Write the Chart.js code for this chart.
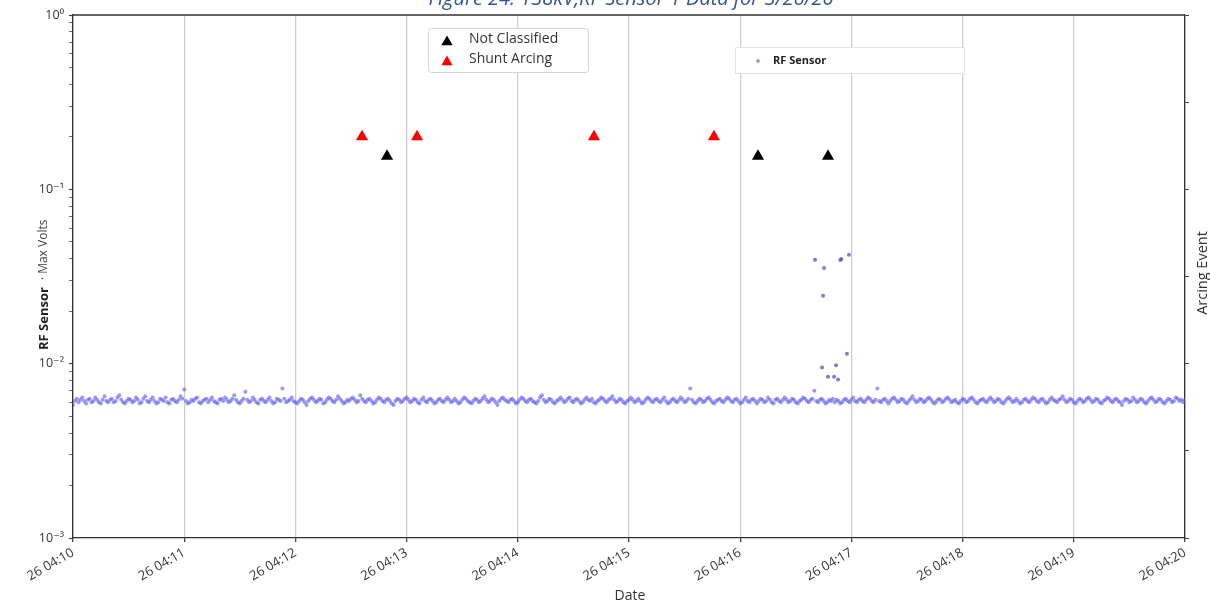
<!DOCTYPE html>
<html><head><meta charset="utf-8">
<script src="https://cdn.jsdelivr.net/npm/chart.js@4.4.1/dist/chart.umd.min.js"></script>
<style>html,body{margin:0;padding:0;background:#fff;} #wrap{width:1210px;height:604px;position:relative;}</style>
</head><body><div id="wrap"><canvas id="c" width="1210" height="604"></canvas></div>
<script>
const chartTitle = 'Figure 24. 138kV,RF Sensor 1 Data for 3/26/20';
const xTickLabels = ['26 04:10','26 04:11','26 04:12','26 04:13','26 04:14','26 04:15','26 04:16','26 04:17','26 04:18','26 04:19','26 04:20'];
const yMajorTicks = [0.001, 0.01, 0.1, 1];
const yMajorLabels = ['10\u207B\u00B3', '10\u207B\u00B2', '10\u207B\u00B9', '10\u2070'];
const yLabelMain = 'RF Sensor';
const yLabelSub = '\u00B7 Max Volts';
const y2Label = 'Arcing Event';
const xLabel = 'Date';
const legendEvents = ['Not Classified', 'Shunt Arcing'];
const legendSensor = 'RF Sensor';

// RF sensor max volts, one reading per second from 04:10:00
const rfValues = [
.0058,.0061,.0063,.0060,.0062,.0064,.0061,.0059,.0062,.0063,.0060,.0061,.0064,.0062,.0060,.0059,.0062,.0065,.0061,.0060,
.0062,.0063,.0060,.0061,.0064,.0066,.0062,.0060,.0059,.0061,.0063,.0062,.0060,.0061,.0064,.0062,.0059,.0060,.0063,.0065,
.0061,.0060,.0062,.0064,.0061,.0059,.0060,.0063,.0062,.0061,.0064,.0060,.0059,.0062,.0063,.0061,.0060,.0062,.0065,.0063,
.0071,.0061,.0059,.0060,.0062,.0061,.0063,.0064,.0060,.0059,.0061,.0062,.0063,.0060,.0062,.0064,.0061,.0060,.0059,.0062,
.0063,.0061,.0064,.0062,.0060,.0061,.0063,.0066,.0062,.0060,.0059,.0061,.0063,.0069,.0062,.0060,.0061,.0064,.0062,.0060,
.0059,.0062,.0063,.0061,.0060,.0062,.0064,.0061,.0059,.0060,.0063,.0062,.0061,.0072,.0063,.0060,.0061,.0062,.0064,.0061,
.0060,.0059,.0061,.0063,.0062,.0060,.0058,.0061,.0063,.0064,.0062,.0060,.0061,.0063,.0062,.0059,.0060,.0062,.0064,.0063,
.0061,.0060,.0062,.0065,.0063,.0061,.0059,.0060,.0062,.0061,.0063,.0064,.0062,.0060,.0061,.0066,.0063,.0061,.0060,.0062,
.0063,.0061,.0059,.0060,.0062,.0064,.0063,.0061,.0060,.0062,.0063,.0061,.0059,.0058,.0061,.0063,.0062,.0060,.0061,.0063,
.0064,.0062,.0060,.0061,.0063,.0062,.0060,.0059,.0062,.0064,.0061,.0060,.0062,.0063,.0061,.0059,.0060,.0062,.0063,.0061,
.0060,.0062,.0064,.0062,.0060,.0061,.0063,.0061,.0059,.0060,.0062,.0064,.0063,.0061,.0060,.0059,.0061,.0063,.0062,.0060,
.0061,.0063,.0065,.0062,.0060,.0061,.0063,.0062,.0060,.0058,.0061,.0063,.0064,.0062,.0061,.0060,.0062,.0063,.0061,.0059,
.0060,.0062,.0064,.0063,.0061,.0060,.0062,.0063,.0061,.0060,.0059,.0061,.0064,.0066,.0062,.0060,.0061,.0063,.0062,.0060,
.0059,.0061,.0062,.0064,.0062,.0060,.0061,.0063,.0064,.0061,.0060,.0062,.0063,.0061,.0059,.0060,.0062,.0064,.0062,.0061,
.0063,.0060,.0059,.0061,.0062,.0064,.0063,.0061,.0060,.0062,.0063,.0065,.0062,.0060,.0061,.0063,.0062,.0060,.0059,.0061,
.0062,.0064,.0062,.0060,.0061,.0063,.0061,.0059,.0060,.0062,.0064,.0063,.0061,.0060,.0062,.0063,.0061,.0060,.0062,.0064,
.0061,.0059,.0060,.0062,.0063,.0061,.0060,.0062,.0064,.0062,.0060,.0061,.0063,.0072,.0062,.0060,.0059,.0061,.0063,.0062,
.0060,.0061,.0063,.0064,.0062,.0060,.0059,.0061,.0062,.0063,.0061,.0060,.0062,.0064,.0063,.0061,.0060,.0062,.0063,.0061,
.0059,.0060,.0062,.0064,.0061,.0060,.0062,.0063,.0061,.0059,.0061,.0063,.0062,.0060,.0061,.0064,.0062,.0060,.0059,.0062,
.0063,.0061,.0060,.0062,.0064,.0062,.0060,.0061,.0063,.0062,.0060,.0059,.0061,.0062,.0064,.0063,.0061,.0060,.0062,.0063,
.0070,.0061,.0060,.0062,.0063,.0061,.0059,.0060,.0062,.0061,.0063,.0060,.0062,.0061,.0059,.0060,.0062,.0063,.0061,.0060,
.0062,.0064,.0061,.0060,.0062,.0063,.0061,.0060,.0062,.0064,.0063,.0061,.0060,.0062,.0072,.0061,.0060,.0062,.0063,.0061,
.0059,.0061,.0063,.0064,.0062,.0060,.0061,.0063,.0062,.0060,.0059,.0061,.0063,.0065,.0062,.0060,.0061,.0063,.0062,.0060,
.0061,.0063,.0064,.0062,.0060,.0059,.0061,.0063,.0062,.0060,.0061,.0063,.0064,.0062,.0060,.0061,.0062,.0060,.0059,.0061,
.0063,.0062,.0060,.0061,.0063,.0064,.0062,.0060,.0059,.0061,.0062,.0063,.0061,.0060,.0062,.0064,.0062,.0060,.0061,.0063,
.0062,.0060,.0059,.0061,.0063,.0064,.0062,.0060,.0061,.0063,.0061,.0059,.0060,.0062,.0063,.0061,.0060,.0062,.0064,.0063,
.0061,.0060,.0062,.0063,.0061,.0059,.0060,.0062,.0064,.0062,.0061,.0060,.0062,.0063,.0065,.0062,.0060,.0061,.0063,.0062,
.0060,.0059,.0061,.0063,.0062,.0060,.0061,.0063,.0064,.0062,.0060,.0061,.0063,.0062,.0060,.0059,.0061,.0062,.0064,.0063,
.0061,.0060,.0062,.0063,.0061,.0060,.0058,.0061,.0063,.0062,.0060,.0061,.0064,.0062,.0060,.0061,.0063,.0062,.0060,.0059,
.0061,.0063,.0064,.0062,.0060,.0061,.0063,.0062,.0060,.0059,.0061,.0063,.0062,.0060,.0061,.0064,.0063,.0061,.0062,.0060,
.0062];

// burst of elevated readings (minutes after 04:10)
const rfBurstMinutes = [6.673, 6.736, 6.745, 6.754, 6.790, 6.844, 6.862, 6.880, 6.900, 6.910, 6.960, 6.978];
const rfBurstValues  = [0.0394, 0.0095, 0.0245, 0.0354, 0.0084, 0.0084, 0.0098, 0.0081, 0.0393, 0.0398, 0.0114, 0.0421];

// arcing events (minutes after 04:10)
const notClassifiedMinutes = [2.824, 6.160, 6.790];
const notClassifiedValues  = [0.155, 0.155, 0.155];
const shuntArcingMinutes = [2.599, 3.094, 4.685, 5.764];
const shuntArcingValues  = [0.2, 0.2, 0.2, 0.2];

const rfColor = 'rgba(85,85,240,0.6)';
const FONT = '"Open Sans", "DejaVu Sans", sans-serif';

const rfData = rfValues.map((v, i) => ({x: i / 60, y: v}));
const burstData = rfBurstMinutes.map((m, i) => ({x: m, y: rfBurstValues[i]}));
const ncData = notClassifiedMinutes.map((m, i) => ({x: m, y: notClassifiedValues[i]}));
const saData = shuntArcingMinutes.map((m, i) => ({x: m, y: shuntArcingValues[i]}));

function triangle(ctx, x, y, r, color) {
  ctx.beginPath();
  for (let k = 0; k < 3; k++) {
    const a = k * 2 * Math.PI / 3;
    const px = x + Math.sin(a) * r, py = y - Math.cos(a) * r;
    if (k === 0) ctx.moveTo(px, py); else ctx.lineTo(px, py);
  }
  ctx.closePath();
  ctx.fillStyle = color; ctx.fill();
}

const decor = {
  id: 'decor',
  afterDraw(chart) {
    const {ctx, chartArea: a} = chart;
    ctx.save();
    ctx.strokeStyle = '#333'; ctx.lineWidth = 1.3;
    ctx.beginPath(); ctx.moveTo(a.left, a.top); ctx.lineTo(a.right, a.top); ctx.stroke();

    ctx.font = 'italic 20px ' + FONT; ctx.fillStyle = '#2E5597';
    ctx.textAlign = 'center'; ctx.textBaseline = 'alphabetic';
    ctx.fillText(chartTitle, 631, 5);

    ctx.save();
    ctx.translate(44, 350); ctx.rotate(-Math.PI / 2);
    ctx.textAlign = 'left'; ctx.textBaseline = 'middle'; ctx.fillStyle = '#222';
    ctx.font = 'bold 13px ' + FONT;
    ctx.fillText(yLabelMain, 0, 0);
    const w = ctx.measureText(yLabelMain).width;
    ctx.font = '12px ' + FONT; ctx.fillStyle = '#444';
    ctx.fillText(yLabelSub, w + 7, 0);
    ctx.restore();

    ctx.save();
    ctx.translate(1203, 273); ctx.rotate(-Math.PI / 2);
    ctx.textAlign = 'center'; ctx.textBaseline = 'middle'; ctx.fillStyle = '#333';
    ctx.font = '14.5px ' + FONT;
    ctx.fillText(y2Label, 0, 0);
    ctx.restore();

    ctx.textAlign = 'center'; ctx.textBaseline = 'middle'; ctx.fillStyle = '#333';
    ctx.font = '14px ' + FONT;
    ctx.fillText(xLabel, 630, 596);

    ctx.fillStyle = '#fff'; ctx.strokeStyle = '#d4d4d4'; ctx.lineWidth = 1;
    ctx.beginPath(); ctx.roundRect(428.5, 28.5, 160, 44, 3); ctx.fill(); ctx.stroke();
    triangle(ctx, 447, 42, 6.5, '#000');
    triangle(ctx, 447, 62, 6.5, '#ff0000');
    ctx.fillStyle = '#333'; ctx.font = '14px ' + FONT; ctx.textAlign = 'left'; ctx.textBaseline = 'middle';
    ctx.fillText(legendEvents[0], 469, 39);
    ctx.fillText(legendEvents[1], 469, 59);

    ctx.fillStyle = '#fff'; ctx.strokeStyle = '#e4e4e4';
    ctx.beginPath(); ctx.rect(735.5, 47.5, 229, 26); ctx.fill(); ctx.stroke();
    ctx.fillStyle = rfColor;
    ctx.beginPath(); ctx.arc(758, 61, 1.9, 0, 2 * Math.PI); ctx.fill();
    ctx.fillStyle = '#222'; ctx.font = 'bold 11px ' + FONT;
    ctx.fillText(legendSensor, 773, 61);
    ctx.restore();
  }
};

new Chart(document.getElementById('c'), {
  type: 'scatter',
  data: {
    datasets: [
      {label: legendEvents[1], data: saData, yAxisID: 'y', order: 0, pointStyle: 'triangle', pointRadius: 7, pointHoverRadius: 7,
       backgroundColor: '#ff0000', borderColor: '#ff0000', borderWidth: 0},
      {label: legendEvents[0], data: ncData, yAxisID: 'y', order: 1, pointStyle: 'triangle', pointRadius: 7, pointHoverRadius: 7,
       backgroundColor: '#000', borderColor: '#000', borderWidth: 0},
      {label: legendSensor, data: burstData, yAxisID: 'y', order: 2, pointRadius: 2, borderWidth: 0,
       backgroundColor: 'rgba(80,80,200,0.75)'},
      {label: legendSensor, data: rfData, yAxisID: 'y', order: 3, pointRadius: 2, borderWidth: 0,
       backgroundColor: rfColor}
    ]
  },
  options: {
    responsive: false,
    animation: false,
    devicePixelRatio: 1,
    layout: {padding: {top: 15, left: 0, right: 0, bottom: 0}},
    plugins: {legend: {display: false}, tooltip: {enabled: false}, title: {display: false}},
    scales: {
      x: {
        type: 'linear', min: 0, max: 10,
        afterFit: s => { s.height = 66; },
        ticks: {stepSize: 1, autoSkip: false, minRotation: 30, maxRotation: 30, padding: 3,
                color: '#333', font: {family: FONT, size: 13},
                callback: v => xTickLabels[Math.round(v)] || ''},
        grid: {color: '#cfcfcf', lineWidth: 1.3, drawTicks: true, tickLength: 4, tickColor: '#444'},
        border: {display: true, color: '#333', width: 1.3}
      },
      y: {
        type: 'logarithmic', position: 'left', min: 0.001, max: 1,
        afterFit: s => { s.width = 73; },
        afterBuildTicks: s => {
          const t = [];
          yMajorTicks.forEach((m, k) => {
            t.push({value: m, major: true});
            if (k < yMajorTicks.length - 1) for (let q = 2; q <= 9; q++) t.push({value: m * q, major: false});
          });
          s.ticks = t;
        },
        ticks: {autoSkip: false, padding: 5, color: '#333', font: {family: FONT, size: 12.5},
                callback: v => { const k = yMajorTicks.indexOf(v); return k >= 0 ? yMajorLabels[k] : ''; }},
        grid: {drawOnChartArea: false, drawTicks: true, tickLength: 4, tickColor: '#444',
               tickWidth: c => (c.tick && c.tick.major) ? 1.2 : 0.8},
        border: {display: true, color: '#333', width: 1.3}
      },
      y2: {
        type: 'linear', position: 'right', min: 0, max: 6,
        afterFit: s => { s.width = 25; },
        ticks: {stepSize: 1, autoSkip: false, callback: () => ''},
        grid: {drawOnChartArea: false, drawTicks: true, tickLength: 4, tickColor: '#444'},
        border: {display: true, color: '#333', width: 1.3}
      }
    }
  },
  plugins: [decor]
});
</script>
</body></html>
